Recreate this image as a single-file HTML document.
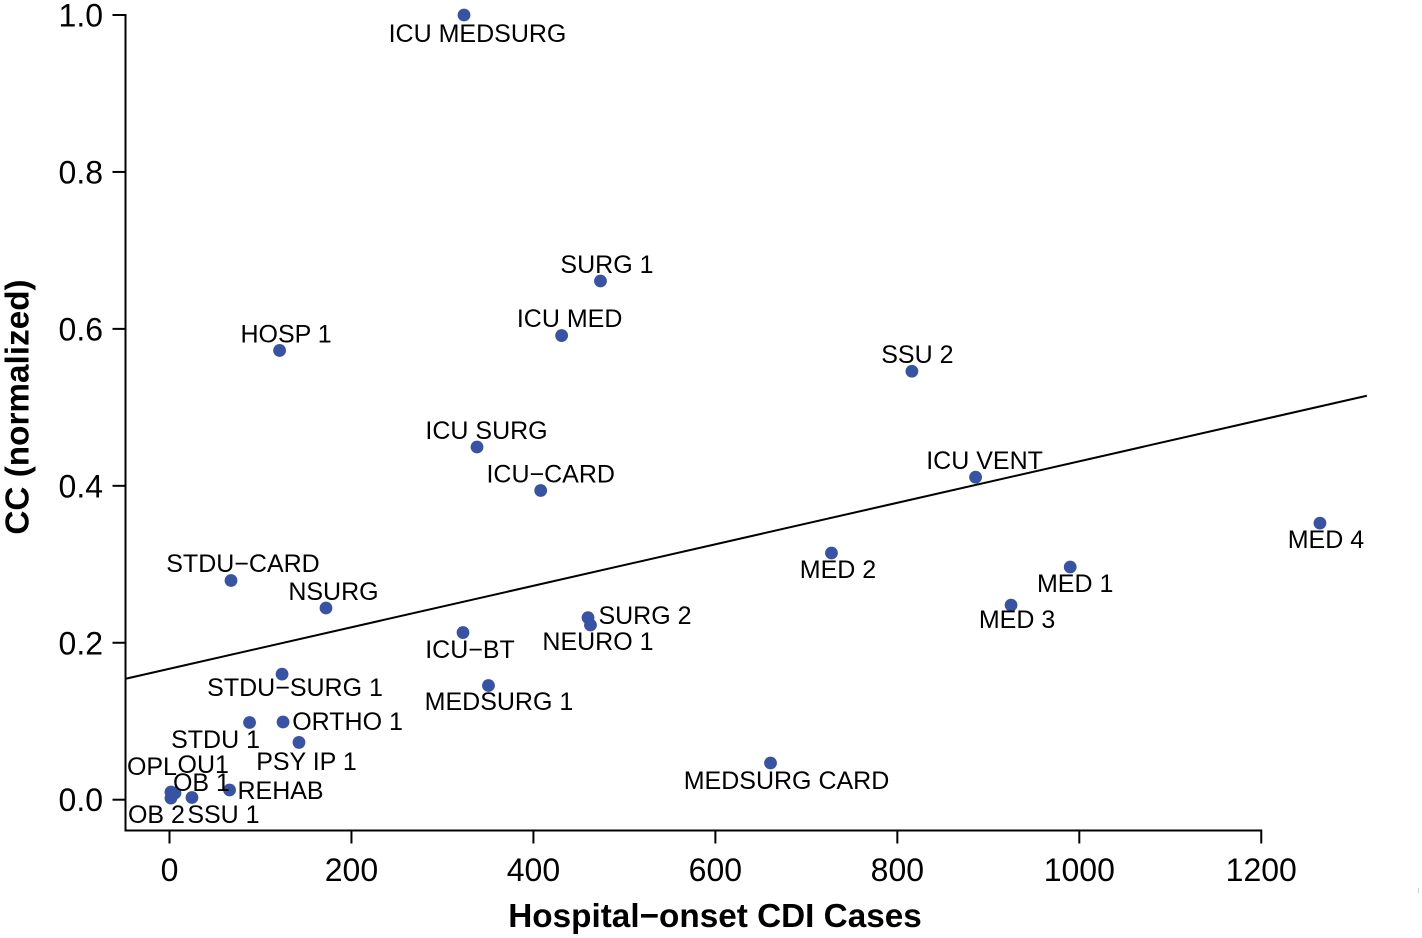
<!DOCTYPE html>
<html lang="en">
<head>
<meta charset="utf-8">
<title>CC vs Hospital-onset CDI Cases</title>
<style>
html,body{margin:0;padding:0;background:#fff;width:1422px;height:938px;overflow:hidden}
svg{display:block;font-family:"Liberation Sans",Arial,sans-serif}
</style>
</head>
<body>
<svg id="chart" width="1422" height="938" viewBox="0 0 1422 938" xmlns="http://www.w3.org/2000/svg">
  <rect width="1422" height="938" fill="#ffffff"/>
  <g id="axes"></g>
  <g id="trend"></g>
  <g id="points"></g>
  <g id="labels"></g>
  <text x="715" y="927" font-size="33.3" font-weight="700" text-anchor="middle" fill="#000">Hospital−onset CDI Cases</text>
  <text transform="translate(28.5,407) rotate(-90)" font-size="33.3" font-weight="700" text-anchor="middle" fill="#000">CC (normalized)</text>
  <rect x="1418" y="888" width="1" height="5" fill="#cccccc"/>
</svg>
<script>
const units = ["ICU MEDSURG","SURG 1","ICU MED","HOSP 1","SSU 2","ICU SURG","ICU−CARD","ICU VENT","MED 4","MED 2","MED 1","MED 3","STDU−CARD","NSURG","SURG 2","NEURO 1","ICU−BT","STDU−SURG 1","MEDSURG 1","ORTHO 1","STDU 1","PSY IP 1","MEDSURG CARD","REHAB","SSU 1","OB 2","OB 1","OPL","OU1"];
const cases = [323.7,473.7,431,121,816,338,408,886,1264.5,727.6,990,925,67.6,172,460,462.7,322.6,123.7,350.6,124.8,88,142.3,660.6,66,24.7,1.6,6,1.6,3];
const ccValues = [1.0,0.661,0.5915,0.5725,0.546,0.4495,0.394,0.411,0.3525,0.3144,0.2965,0.248,0.2793,0.2443,0.232,0.2226,0.213,0.160,0.1455,0.099,0.0984,0.073,0.0468,0.0124,0.0028,0.002,0.0085,0.0098,0.006];
const xTicks = [0,200,400,600,800,1000,1200];
const yTicks = [0,0.2,0.4,0.6,0.8,1.0];
const yTickLabels = ["0.0","0.2","0.4","0.6","0.8","1.0"];
const trendX = [-48.3,1316];
const trendY = [0.1541,0.5148];
// label placement relative to each point (layout, not data)
const labelDx = [13.5,6.5,8,6.5,5.5,9.5,10,9,6,6.5,5,6,12,7.5,57,7.5,7,13,10.5,64.5,-34,7.5,16,51,31.5,-14.5,26.5,-19,31];
const labelDy = [27,-8,-8.5,-8,-8.5,-8,-8,-8,25,25,25,23,-8.5,-8,6.5,25,25.5,22,24.5,8,25.5,27.5,26,9,25.5,25,-2,-17,-22];

const NS = "http://www.w3.org/2000/svg";
const sx = v => 169.5 + v * 0.9098;
const sy = v => 799.7 - v * 784.7;
const axisLeft = 125.5, axisBottom = 830.5;

function make(tag, attrs, parent, text) {
  const el = document.createElementNS(NS, tag);
  for (const k in attrs) el.setAttribute(k, attrs[k]);
  if (text !== undefined) el.textContent = text;
  parent.appendChild(el);
  return el;
}
const axes = document.getElementById("axes");
const trend = document.getElementById("trend");
const pts = document.getElementById("points");
const labs = document.getElementById("labels");

const xLine = make("line", {x1: axisLeft - 1, x2: sx(xTicks[xTicks.length - 1]) + 1, y1: axisBottom, y2: axisBottom, stroke: "#000", "stroke-width": 2}, axes);


const yLine = make("line", {x1: axisLeft, x2: axisLeft, y1: sy(1) - 1, y2: axisBottom, stroke: "#000", "stroke-width": 2}, axes);



xTicks.forEach(v => {
  const t = make("line", {x1: sx(v), x2: sx(v), y1: axisBottom, y2: axisBottom + 13, stroke: "#000", "stroke-width": 2}, axes);
  
  
  const l = make("text", {x: sx(v), y: 881, "font-size": 32, "text-anchor": "middle", fill: "#000"}, axes, String(v));
  
  
});
yTicks.forEach((v, i) => {
  const t = make("line", {x1: axisLeft - 13, x2: axisLeft, y1: sy(v), y2: sy(v), stroke: "#000", "stroke-width": 2}, axes);
  
  
  const l = make("text", {x: 103, y: sy(v) + 11.5, "font-size": 32, "text-anchor": "end", fill: "#000"}, axes, yTickLabels[i]);
  
  
});

const tl = make("line", {x1: sx(trendX[0]), y1: sy(trendY[0]), x2: sx(trendX[1]), y2: sy(trendY[1]), stroke: "#000", "stroke-width": 2}, trend);



units.forEach((name, i) => {
  const c = make("circle", {cx: sx(cases[i]), cy: sy(ccValues[i]), r: 6.4, fill: "#3953a4"}, pts);
  
  
  const t = make("text", {x: sx(cases[i]) + labelDx[i], y: sy(ccValues[i]) + labelDy[i], "font-size": 25, "text-anchor": "middle", fill: "#000"}, labs, name);
  
  
});
</script>
</body>
</html>
